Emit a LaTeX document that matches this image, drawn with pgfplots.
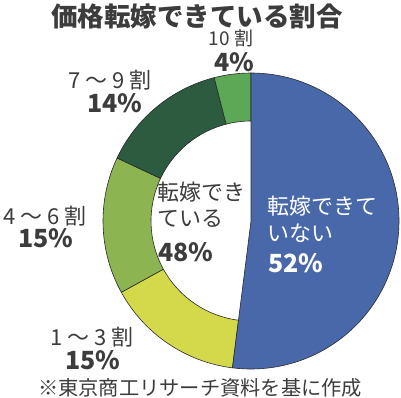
\documentclass[border=0pt]{standalone}
\usepackage{pgfplots}
\pgfplotsset{compat=1.18}
\usepackage{pgfplotstable}
\usepackage{fontspec}
\setmainfont{Noto Sans CJK JP}
\definecolor{cblue}{HTML}{4968AA}
\definecolor{cyg}{HTML}{D4D94C}
\definecolor{cmid}{HTML}{8CB552}
\definecolor{cdark}{HTML}{2D5B3F}
\definecolor{clight}{HTML}{5BA856}
\definecolor{edgec}{HTML}{2A2A2A}
\definecolor{txt}{HTML}{3C3C3C}

\pgfplotstableread{
group share
none 52
r13 15
r46 15
r79 14
r10 4
}\sharetable

\newcommand\ringseg[3]{%
  \filldraw[fill=#1, draw=edgec, line width=0.6pt]
    ([shift={(#2:148pt)}]axis cs:0,0) arc[start angle=#2, end angle=#3, radius=148pt]
    -- ([shift={(#3:100pt)}]axis cs:0,0) arc[start angle=#3, end angle=#2, radius=100pt] -- cycle;}

\newcommand\pct[1]{{\bfseries\fontsize{25}{28}\selectfont #1}}
\newcommand\lab[1]{{\fontsize{22}{25}\selectfont #1}}

\begin{document}
\begin{tikzpicture}[x=1pt,y=1pt]
\useasboundingbox (0,0) rectangle (401,-397);
\pgfplotstablegetelem{0}{share}\of\sharetable \edef\sA{\pgfplotsretval}
\pgfplotstablegetelem{1}{share}\of\sharetable \edef\sB{\pgfplotsretval}
\pgfplotstablegetelem{2}{share}\of\sharetable \edef\sC{\pgfplotsretval}
\pgfplotstablegetelem{3}{share}\of\sharetable \edef\sD{\pgfplotsretval}
\pgfplotstablegetelem{4}{share}\of\sharetable \edef\sE{\pgfplotsretval}
\pgfmathsetmacro\aA{90-3.6*\sA}
\pgfmathsetmacro\aB{\aA-3.6*\sB}
\pgfmathsetmacro\aC{\aB-3.6*\sC}
\pgfmathsetmacro\aD{\aC-3.6*\sD}
\pgfmathsetmacro\aE{\aD-3.6*\sE}
\begin{axis}[at={(251pt,-221pt)}, anchor=center, scale only axis,
  width=296pt, height=296pt, xmin=-1, xmax=1, ymin=-1, ymax=1,
  hide axis, clip=false]
\ringseg{cyg}{\aA}{\aB}
\ringseg{cmid}{\aB}{\aC}
\ringseg{cdark}{\aC}{\aD}
\ringseg{clight}{\aD}{\aE}
\filldraw[fill=cblue, draw=edgec, line width=0.6pt] (axis cs:0,0) -- ++(90:148pt)
  arc[start angle=90, end angle=\aA, radius=148pt] -- cycle;
\end{axis}

\node[inner sep=0, text=txt, font=\bfseries\fontsize{26.5}{30}\selectfont] at (197,-16) {価格転嫁できている割合};
\node[inner sep=0, text=txt, font=\fontsize{19}{22}\selectfont] at (231,-38) {10 割};
\node[inner sep=0, text=txt] at (234,-62) {\pct{4\%}};
\node[inner sep=0, text=txt] at (110,-80) {\lab{7 ～ 9 割}};
\node[inner sep=0, text=txt] at (115,-103) {\pct{14\%}};
\node[inner sep=0, text=txt] at (45,-216) {\lab{4 ～ 6 割}};
\node[inner sep=0, text=txt] at (46,-238) {\pct{15\%}};
\node[inner sep=0, text=txt] at (92,-337) {\lab{1 ～ 3 割}};
\node[inner sep=0, text=txt] at (93,-360) {\pct{15\%}};
\node[inner sep=0, text=txt, anchor=west] at (157,-192) {\lab{転嫁でき}};
\node[inner sep=0, text=txt, anchor=west] at (157,-219) {\lab{ている}};
\node[inner sep=0, text=txt, anchor=west] at (158,-252) {\pct{48\%}};
\node[inner sep=0, text=white, anchor=west] at (267,-206) {\lab{転嫁できて}};
\node[inner sep=0, text=white, anchor=west] at (267,-233) {\lab{いない}};
\node[inner sep=0, text=white, anchor=west] at (268,-263) {\pct{52\%}};
\node[inner sep=0, text=txt, font=\fontsize{20.25}{23}\selectfont] at (200,-388) {※東京商工リサーチ資料を基に作成};
\end{tikzpicture}
\end{document}
